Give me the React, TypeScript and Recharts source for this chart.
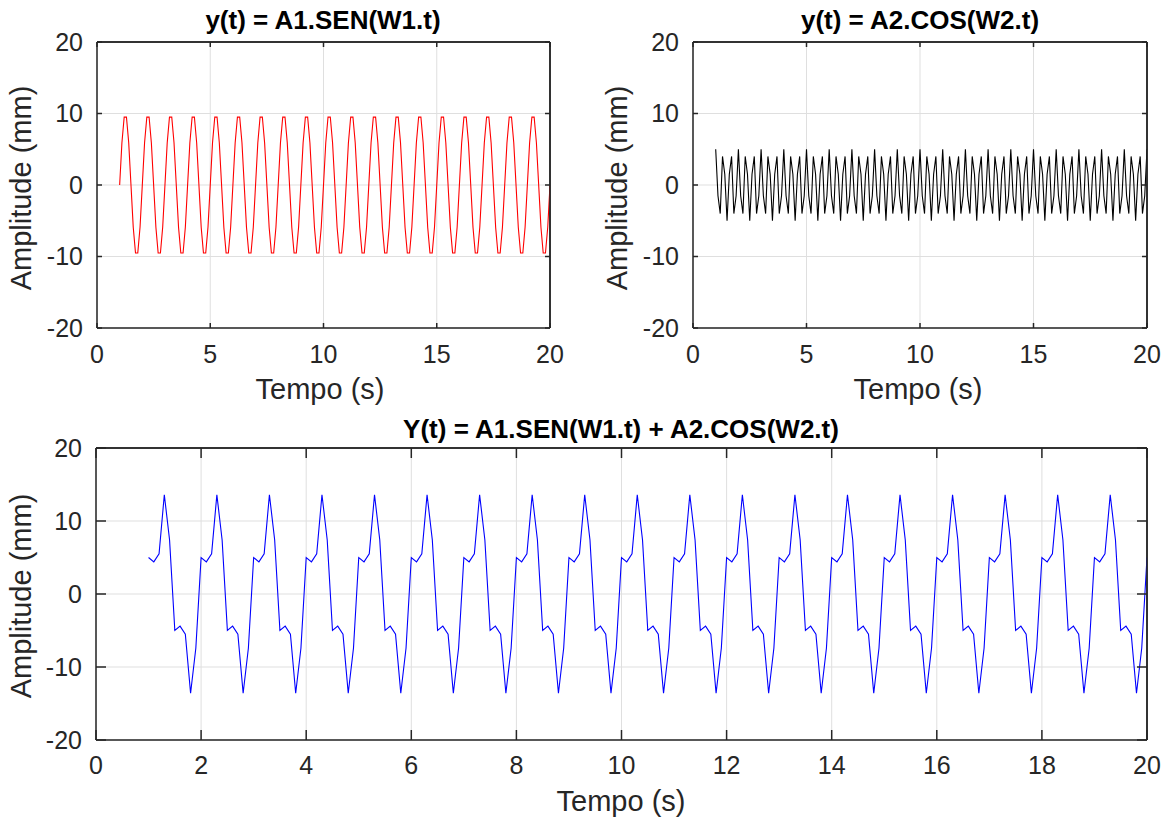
import React from "react";
import {
  LineChart,
  Line,
  XAxis,
  YAxis,
  CartesianGrid,
  ReferenceLine,
} from "recharts";

// sample times: t = 1 : 0.1 : 20
const tStart = 1;
const tStep = 0.1;

// A1.sen(W1.t), one row per second
const senValues = [
  0, 5.9, 9.5, 9.5, 5.9, 0, -5.9, -9.5, -9.5, -5.9,
  0, 5.9, 9.5, 9.5, 5.9, 0, -5.9, -9.5, -9.5, -5.9,
  0, 5.9, 9.5, 9.5, 5.9, 0, -5.9, -9.5, -9.5, -5.9,
  0, 5.9, 9.5, 9.5, 5.9, 0, -5.9, -9.5, -9.5, -5.9,
  0, 5.9, 9.5, 9.5, 5.9, 0, -5.9, -9.5, -9.5, -5.9,
  0, 5.9, 9.5, 9.5, 5.9, 0, -5.9, -9.5, -9.5, -5.9,
  0, 5.9, 9.5, 9.5, 5.9, 0, -5.9, -9.5, -9.5, -5.9,
  0, 5.9, 9.5, 9.5, 5.9, 0, -5.9, -9.5, -9.5, -5.9,
  0, 5.9, 9.5, 9.5, 5.9, 0, -5.9, -9.5, -9.5, -5.9,
  0, 5.9, 9.5, 9.5, 5.9, 0, -5.9, -9.5, -9.5, -5.9,
  0, 5.9, 9.5, 9.5, 5.9, 0, -5.9, -9.5, -9.5, -5.9,
  0, 5.9, 9.5, 9.5, 5.9, 0, -5.9, -9.5, -9.5, -5.9,
  0, 5.9, 9.5, 9.5, 5.9, 0, -5.9, -9.5, -9.5, -5.9,
  0, 5.9, 9.5, 9.5, 5.9, 0, -5.9, -9.5, -9.5, -5.9,
  0, 5.9, 9.5, 9.5, 5.9, 0, -5.9, -9.5, -9.5, -5.9,
  0, 5.9, 9.5, 9.5, 5.9, 0, -5.9, -9.5, -9.5, -5.9,
  0, 5.9, 9.5, 9.5, 5.9, 0, -5.9, -9.5, -9.5, -5.9,
  0, 5.9, 9.5, 9.5, 5.9, 0, -5.9, -9.5, -9.5, -5.9,
  0, 5.9, 9.5, 9.5, 5.9, 0, -5.9, -9.5, -9.5, -5.9,
  0,
];

// A2.cos(W2.t)
const cosValues = [
  5, -1.5, -4, 4, 1.5, -5, 1.5, 4, -4, -1.5,
  5, -1.5, -4, 4, 1.5, -5, 1.5, 4, -4, -1.5,
  5, -1.5, -4, 4, 1.5, -5, 1.5, 4, -4, -1.5,
  5, -1.5, -4, 4, 1.5, -5, 1.5, 4, -4, -1.5,
  5, -1.5, -4, 4, 1.5, -5, 1.5, 4, -4, -1.5,
  5, -1.5, -4, 4, 1.5, -5, 1.5, 4, -4, -1.5,
  5, -1.5, -4, 4, 1.5, -5, 1.5, 4, -4, -1.5,
  5, -1.5, -4, 4, 1.5, -5, 1.5, 4, -4, -1.5,
  5, -1.5, -4, 4, 1.5, -5, 1.5, 4, -4, -1.5,
  5, -1.5, -4, 4, 1.5, -5, 1.5, 4, -4, -1.5,
  5, -1.5, -4, 4, 1.5, -5, 1.5, 4, -4, -1.5,
  5, -1.5, -4, 4, 1.5, -5, 1.5, 4, -4, -1.5,
  5, -1.5, -4, 4, 1.5, -5, 1.5, 4, -4, -1.5,
  5, -1.5, -4, 4, 1.5, -5, 1.5, 4, -4, -1.5,
  5, -1.5, -4, 4, 1.5, -5, 1.5, 4, -4, -1.5,
  5, -1.5, -4, 4, 1.5, -5, 1.5, 4, -4, -1.5,
  5, -1.5, -4, 4, 1.5, -5, 1.5, 4, -4, -1.5,
  5, -1.5, -4, 4, 1.5, -5, 1.5, 4, -4, -1.5,
  5, -1.5, -4, 4, 1.5, -5, 1.5, 4, -4, -1.5,
  5,
];

// Y(t) = sum
const sumValues = [
  5, 4.4, 5.5, 13.6, 7.4, -5, -4.4, -5.5, -13.6, -7.4,
  5, 4.4, 5.5, 13.6, 7.4, -5, -4.4, -5.5, -13.6, -7.4,
  5, 4.4, 5.5, 13.6, 7.4, -5, -4.4, -5.5, -13.6, -7.4,
  5, 4.4, 5.5, 13.6, 7.4, -5, -4.4, -5.5, -13.6, -7.4,
  5, 4.4, 5.5, 13.6, 7.4, -5, -4.4, -5.5, -13.6, -7.4,
  5, 4.4, 5.5, 13.6, 7.4, -5, -4.4, -5.5, -13.6, -7.4,
  5, 4.4, 5.5, 13.6, 7.4, -5, -4.4, -5.5, -13.6, -7.4,
  5, 4.4, 5.5, 13.6, 7.4, -5, -4.4, -5.5, -13.6, -7.4,
  5, 4.4, 5.5, 13.6, 7.4, -5, -4.4, -5.5, -13.6, -7.4,
  5, 4.4, 5.5, 13.6, 7.4, -5, -4.4, -5.5, -13.6, -7.4,
  5, 4.4, 5.5, 13.6, 7.4, -5, -4.4, -5.5, -13.6, -7.4,
  5, 4.4, 5.5, 13.6, 7.4, -5, -4.4, -5.5, -13.6, -7.4,
  5, 4.4, 5.5, 13.6, 7.4, -5, -4.4, -5.5, -13.6, -7.4,
  5, 4.4, 5.5, 13.6, 7.4, -5, -4.4, -5.5, -13.6, -7.4,
  5, 4.4, 5.5, 13.6, 7.4, -5, -4.4, -5.5, -13.6, -7.4,
  5, 4.4, 5.5, 13.6, 7.4, -5, -4.4, -5.5, -13.6, -7.4,
  5, 4.4, 5.5, 13.6, 7.4, -5, -4.4, -5.5, -13.6, -7.4,
  5, 4.4, 5.5, 13.6, 7.4, -5, -4.4, -5.5, -13.6, -7.4,
  5, 4.4, 5.5, 13.6, 7.4, -5, -4.4, -5.5, -13.6, -7.4,
  5,
];

const yTicks = [-20, -10, 0, 10, 20];
const xTicksTop = [0, 5, 10, 15, 20];
const xTicksBottom = [0, 2, 4, 6, 8, 10, 12, 14, 16, 18, 20];

const titles = [
  "y(t) = A1.SEN(W1.t)",
  "y(t) = A2.COS(W2.t)",
  "Y(t) = A1.SEN(W1.t) + A2.COS(W2.t)",
];
const xLabel = "Tempo (s)";
const yLabel = "Amplitude (mm)";

const FONT = "'Liberation Sans', Arial, Helvetica, sans-serif";
const AXIS = "#262626";
const GRID = "#dfdfdf";

const rows = senValues.map((v, i) => ({
  t: Math.round((tStart + i * tStep) * 10) / 10,
  sen: v,
  cos: cosValues[i],
  sum: sumValues[i],
}));

type PanelProps = {
  left: number;
  top: number;
  width: number;
  height: number;
  plotLeft: number;
  plotTop: number;
  plotRight: number;
  plotBottom: number;
  dataKey: string;
  color: string;
  xTicks: number[];
  tick: number;
  xGap: number;
  yGap: number;
};

const tickStyle = { fill: AXIS, fontSize: 25, fontFamily: FONT };
const axisLine = { stroke: AXIS, strokeWidth: 1.5 };
const tickLine = { stroke: AXIS, strokeWidth: 1.5 };

const Panel = (p: PanelProps) => (
  <div style={{ position: "absolute", left: p.left, top: p.top }}>
    <LineChart
      width={p.width}
      height={p.height}
      data={rows}
      margin={{ top: p.plotTop - 1, right: p.width - p.plotRight - 1, bottom: 0, left: 0 }}
    >
      <CartesianGrid stroke={GRID} strokeWidth={1} />
      <XAxis
        dataKey="t"
        type="number"
        domain={[0, 20]}
        ticks={p.xTicks}
        interval={0}
        height={p.height - p.plotBottom}
        axisLine={axisLine}
        tickLine={tickLine}
        tickSize={-p.tick}
        tickMargin={p.xGap}
        tick={tickStyle}
        allowDataOverflow
      />
      <XAxis
        xAxisId="top"
        orientation="top"
        dataKey="t"
        type="number"
        domain={[0, 20]}
        ticks={p.xTicks}
        interval={0}
        height={1}
        axisLine={axisLine}
        tickLine={tickLine}
        tickSize={-p.tick}
        tickFormatter={() => ""}
        allowDataOverflow
      />
      <YAxis
        type="number"
        domain={[-20, 20]}
        ticks={yTicks}
        interval={0}
        width={p.plotLeft}
        axisLine={axisLine}
        tickLine={tickLine}
        tickSize={-p.tick}
        tickMargin={p.yGap}
        tick={tickStyle}
      />
      <YAxis
        yAxisId="right"
        orientation="right"
        type="number"
        domain={[-20, 20]}
        ticks={yTicks}
        interval={0}
        width={1}
        axisLine={axisLine}
        tickLine={tickLine}
        tickSize={-p.tick}
        tickFormatter={() => ""}
        allowDataOverflow
      />
      <ReferenceLine y={20} stroke={AXIS} strokeWidth={1.5} />
      <ReferenceLine x={20} stroke={AXIS} strokeWidth={1.5} />
      {/* invisible copy that binds the top and right axes so they get drawn */}
      <Line
        xAxisId="top"
        yAxisId="right"
        dataKey={p.dataKey}
        stroke="none"
        dot={false}
        legendType="none"
        isAnimationActive={false}
      />
      <Line
        dataKey={p.dataKey}
        stroke={p.color}
        strokeWidth={1.1}
        dot={false}
        isAnimationActive={false}
      />
    </LineChart>
  </div>
);

const Text = ({
  x,
  y,
  size,
  bold,
  rotate,
  children,
}: {
  x: number;
  y: number;
  size: number;
  bold?: boolean;
  rotate?: boolean;
  children: string;
}) => (
  <div
    style={{
      position: "absolute",
      left: x,
      top: y,
      transform: `translate(-50%, -50%)${rotate ? " rotate(-90deg)" : ""}`,
      whiteSpace: "nowrap",
      fontFamily: FONT,
      fontSize: size,
      fontWeight: bold ? "bold" : "normal",
      color: bold ? "#000" : AXIS,
      lineHeight: 1,
    }}
  >
    {children}
  </div>
);

export default function App() {
  return (
    <div
      style={{
        position: "absolute",
        left: 0,
        top: 0,
        width: 1172,
        height: 818,
        background: "#fff",
        overflow: "hidden",
      }}
    >
      <Panel
        left={0}
        top={0}
        width={580}
        height={400}
        plotLeft={97}
        plotTop={42}
        plotRight={550}
        plotBottom={328}
        dataKey="sen"
        color="#ff0000"
        xTicks={xTicksTop}
        tick={5}
        xGap={22}
        yGap={19}
      />
      <Panel
        left={595}
        top={0}
        width={577}
        height={400}
        plotLeft={98}
        plotTop={42}
        plotRight={552}
        plotBottom={328}
        dataKey="cos"
        color="#000000"
        xTicks={xTicksTop}
        tick={5}
        xGap={22}
        yGap={19}
      />
      <Panel
        left={0}
        top={400}
        width={1172}
        height={418}
        plotLeft={96}
        plotTop={48}
        plotRight={1147}
        plotBottom={340}
        dataKey="sum"
        color="#0000ff"
        xTicks={xTicksBottom}
        tick={10}
        xGap={26}
        yGap={24}
      />

      <Text x={323} y={20} size={26} bold>{titles[0]}</Text>
      <Text x={920} y={20} size={26} bold>{titles[1]}</Text>
      <Text x={621} y={429} size={26} bold>{titles[2]}</Text>

      <Text x={320} y={389} size={29}>{xLabel}</Text>
      <Text x={918} y={389} size={29}>{xLabel}</Text>
      <Text x={621} y={801} size={29}>{xLabel}</Text>

      <Text x={21} y={188} size={29} rotate>{yLabel}</Text>
      <Text x={617} y={188} size={29} rotate>{yLabel}</Text>
      <Text x={21} y={596} size={29} rotate>{yLabel}</Text>
    </div>
  );
}
